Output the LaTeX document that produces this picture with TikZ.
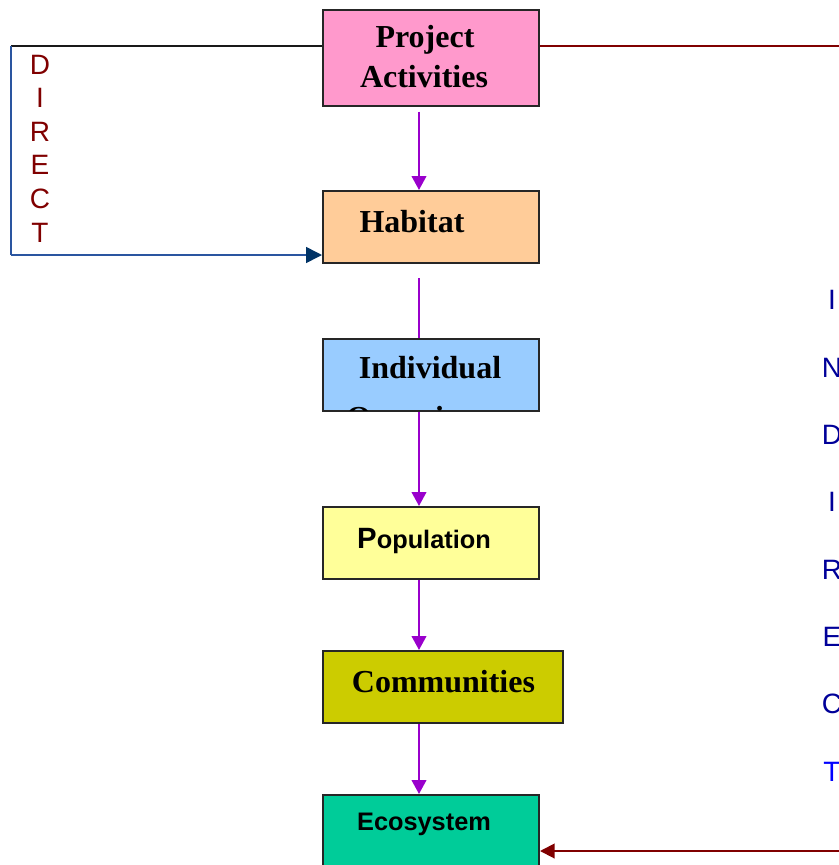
\documentclass[tikz,border=0pt]{standalone}
\usepackage{fontspec}
\setmainfont{Liberation Serif}
\setsansfont{Liberation Sans}
\usetikzlibrary{arrows.meta}
\definecolor{projpink}{HTML}{FF99CC}
\definecolor{haborange}{HTML}{FFCC99}
\definecolor{indblue}{HTML}{99CCFF}
\definecolor{popyellow}{HTML}{FFFF99}
\definecolor{comolive}{HTML}{CCCC00}
\definecolor{ecogreen}{HTML}{00CC99}
\definecolor{flowpurple}{HTML}{9900CC}
\definecolor{dirred}{HTML}{800000}
\definecolor{dirline}{HTML}{2A55A0}
\definecolor{dirnavy}{HTML}{003366}
\definecolor{indtext}{HTML}{000099}
\begin{document}
\begin{tikzpicture}[x=0.75pt,y=-0.75pt,
    box/.style={draw=black!85,line width=1.5pt,minimum width=162pt,minimum height=54pt,inner sep=0pt},
    title/.style={anchor=base,inner sep=0pt,font=\bfseries\fontsize{24}{28}\selectfont},
    stitle/.style={anchor=base,inner sep=0pt,font=\sffamily\bfseries\fontsize{19}{23}\selectfont},
    flow/.style={draw=flowpurple,line width=1.5pt,-{Triangle[length=10.5pt,width=11pt]}},
    letter/.style={anchor=base,inner sep=0pt,font=\sffamily\fontsize{21}{25}\selectfont}]
  \useasboundingbox (0,0) rectangle (839,865);
  \clip (0,0) rectangle (839,865);

  % boxes
  \node[box,fill=projpink,minimum height=72pt] (proj) at (431,58) {};
  \node[box,fill=haborange] (hab) at (431,227) {};
  \node[box,fill=indblue] (ind) at (431,375) {};
  \node[box,fill=popyellow] (pop) at (431,543) {};
  \node[box,fill=comolive,minimum width=180pt] (com) at (443,687) {};
  \node[box,fill=ecogreen] (eco) at (431,831) {};

  % box texts
  \node[title] (projtxt) at (425,47) {Project};
  \node[title] (acttxt) at (424,87) {Activities};
  \node[title] (habtxt) at (412,232) {Habitat};
  \node[title] (indtxt) at (430,378) {Individual};
  \begin{scope}
    \clip ([shift={(1pt,1pt)}]ind.south west) rectangle ([shift={(-1pt,-1pt)}]ind.north east);
    \node[title] (orgtxt) at (421,428) {Organisms};
  \end{scope}
  \node[stitle] (poptxt) at (424,548) {{\fontsize{22}{26}\selectfont P}opulation};
  \node[title] (comtxt) at (443.5,692) {Communities};
  \node[stitle] (ecotxt) at (424,830) {Ecosystem};

  % purple chain
  \coordinate (axis) at (419,0);
  \draw[flow] ([yshift=-3.5pt]proj.south -| axis) -- (hab.north -| axis);
  \draw[flow,-] ([yshift=-10.5pt]hab.south -| axis) -- (ind.north -| axis);
  \draw[flow] (ind.south -| axis) -- (pop.north -| axis);
  \draw[flow] (pop.south -| axis) -- (com.north -| axis);
  \draw[flow] (com.south -| axis) -- (eco.north -| axis);

  % direct path
  \coordinate (dtop) at (11,46);
  \coordinate (dbot) at (11,255);
  \draw[black!90,line width=1.5pt] (dtop -| proj.west) -- (dtop);
  \draw[dirline,line width=1.2pt] (dtop) -- (dbot);
  \draw[dirline,line width=1.2pt,-{Triangle[length=12pt,width=12pt,color=dirnavy]}] (dbot) -- (dbot -| hab.west);
  \foreach \ch [count=\i] in {D,I,R,E,C,T}
    \node[letter,text=dirred] (dl\i) at (40,{40.4+33.6*\i}) {\ch};

  % indirect path
  \coordinate (itop) at (839,46);
  \coordinate (ibot) at (839,851);
  \draw[dirred,line width=1.5pt] (itop -| proj.east) -- (itop);
  \draw[dirred,line width=1.5pt,-{Triangle[length=11pt,width=11pt]}] (ibot) -- (ibot -| eco.east);
  \foreach \ch/\col [count=\i] in {I/indtext,N/indtext,D/indtext,I/indtext,R/indtext,E/indtext,C/indtext,T/blue}
    \node[letter,text=\col] (il\i) at (832,{242.6+67.3*\i}) {\ch};
\end{tikzpicture}
\end{document}
